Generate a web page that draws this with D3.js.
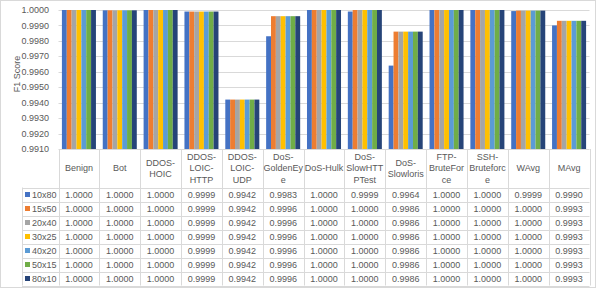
<!DOCTYPE html>
<html>
<head>
<meta charset="utf-8">
<script src="https://cdn.jsdelivr.net/npm/d3@7"></script>
<style>
    body { margin: 0; background: #fff; }
    text { font-family: "Liberation Sans", Arial, sans-serif; font-size: 9px; fill: #595959; }
</style>
</head>
<body>
<svg id="chart"></svg>
<script>
// categories and their wrapped header labels (as shown in the data table)
var categories = ['Benign', 'Bot', 'DDOS-HOIC', 'DDOS-LOIC-HTTP', 'DDOS-LOIC-UDP', 'DoS-GoldenEye',
    'DoS-Hulk', 'DoS-SlowHTTPTest', 'DoS-Slowloris', 'FTP-BruteForce', 'SSH-Bruteforce', 'WAvg', 'MAvg'];
var headerLines = [['Benign'], ['Bot'], ['DDOS-', 'HOIC'], ['DDOS-', 'LOIC-', 'HTTP'], ['DDOS-', 'LOIC-', 'UDP'],
    ['DoS-', 'GoldenEy', 'e'], ['DoS-Hulk'], ['DoS-', 'SlowHTT', 'PTest'], ['DoS-', 'Slowloris'],
    ['FTP-', 'BruteFor', 'ce'], ['SSH-', 'Bruteforc', 'e'], ['WAvg'], ['MAvg']];

var seriesNames = ['10x80', '15x50', '20x40', '30x25', '40x20', '50x15', '80x10'];

// F1 score per series, one value per category
var s10x80 = [1.0000, 0.99998, 1.0000, 0.9999, 0.9942, 0.9983, 1.0000, 0.9999, 0.9964, 1.0000, 1.0000, 0.99993, 0.9990];
var s15x50 = [1.0000, 0.99998, 1.0000, 0.9999, 0.9942, 0.9996, 1.0000, 1.0000, 0.9986, 1.0000, 1.0000, 0.99996, 0.9993];
var s20x40 = [1.0000, 0.99998, 1.0000, 0.9999, 0.9942, 0.9996, 1.0000, 1.0000, 0.9986, 1.0000, 1.0000, 0.99996, 0.9993];
var s30x25 = [1.0000, 0.99998, 1.0000, 0.9999, 0.9942, 0.9996, 1.0000, 1.0000, 0.9986, 1.0000, 1.0000, 0.99996, 0.9993];
var s40x20 = [1.0000, 0.99998, 1.0000, 0.9999, 0.9942, 0.9996, 1.0000, 1.0000, 0.9986, 1.0000, 1.0000, 0.99996, 0.9993];
var s50x15 = [1.0000, 0.99998, 1.0000, 0.9999, 0.9942, 0.9996, 1.0000, 1.0000, 0.9986, 1.0000, 1.0000, 0.99996, 0.9993];
var s80x10 = [1.0000, 0.99998, 1.0000, 0.9999, 0.9942, 0.9996, 1.0000, 1.0000, 0.9986, 1.0000, 1.0000, 0.99996, 0.9993];
var seriesValues = [s10x80, s15x50, s20x40, s30x25, s40x20, s50x15, s80x10];

var yTicks = [0.991, 0.992, 0.993, 0.994, 0.995, 0.996, 0.997, 0.998, 0.999, 1.000];

var colors = ['#4472C4', '#ED7D31', '#A5A5A5', '#FFC000', '#5B9BD5', '#70AD47', '#264478'];

var canvas = setUpSvgCanvas(598, 289);
drawChart(canvas);

function setUpSvgCanvas(width, height) {
    var svg = d3.select('#chart')
        .attr('width', width)
        .attr('height', height);

    // chart border
    svg.append('rect')
        .attr('x', 0.5).attr('y', 0.5)
        .attr('width', 595).attr('height', 287)
        .attr('fill', '#fff')
        .attr('stroke', '#d9d9d9');

    return {svg: svg, width: width, height: height};
}

function drawChart(canvas) {
    var svg = canvas.svg;

    // plot box, table sits underneath
    var left = 58.5, right = 589.5, top = 10, bottom = 149,
        tableLeft = 22, headerBottom = 187.5, rowHeight = 14;

    var x = d3.scaleBand()
        .domain(categories)
        .range([left, right])
        .paddingInner(0.167)
        .paddingOuter(0.0835);

    var xs = d3.scaleBand()
        .domain(seriesNames)
        .range([0, x.bandwidth()]);

    var y = d3.scaleLinear()
        .domain([yTicks[0], yTicks[yTicks.length - 1]])
        .range([bottom, top]);

    var color = d3.scaleOrdinal().domain(seriesNames).range(colors);

    // gridlines + tick labels
    svg.append('g').selectAll('line')
        .data(yTicks.slice(1))
        .enter().append('line')
        .attr('x1', left).attr('x2', right)
        .attr('y1', function(d) { return Math.round(y(d)) + 0.5; })
        .attr('y2', function(d) { return Math.round(y(d)) + 0.5; })
        .attr('stroke', '#d9d9d9');

    svg.append('g').selectAll('text')
        .data(yTicks)
        .enter().append('text')
        .attr('x', 49)
        .attr('y', function(d) { return y(d); })
        .attr('dy', '0.35em')
        .style('text-anchor', 'end')
        .text(d3.format('.4f'));

    svg.append('text')
        .attr('transform', 'translate(17,74) rotate(-90)')
        .style('text-anchor', 'middle')
        .attr('dy', '0.35em')
        .text('F1 Score');

    // bars
    var group = svg.append('g').selectAll('.series')
        .data(seriesNames)
        .enter().append('g')
        .attr('class', 'series')
        .attr('fill', function(d) { return color(d); });

    group.selectAll('rect')
        .data(function(s, i) {
            return seriesValues[i].map(function(v, j) { return {series: s, cat: categories[j], value: v}; });
        })
        .enter().append('rect')
        .attr('x', function(d) { return x(d.cat) + xs(d.series); })
        .attr('width', xs.bandwidth())
        .attr('y', function(d) { return y(d.value); })
        .attr('height', function(d) { return y(yTicks[0]) - y(d.value); });

    // data table
    var step = x.step(),
        nRows = seriesNames.length,
        tableBottom = headerBottom + nRows * rowHeight,
        bounds = d3.range(categories.length + 1).map(function(i) { return left + i * step; });

    var grid = svg.append('g').attr('stroke', '#d9d9d9');

    grid.selectAll('.vline')
        .data(bounds)
        .enter().append('line')
        .attr('x1', function(d) { return Math.round(d) + 0.5; })
        .attr('x2', function(d) { return Math.round(d) + 0.5; })
        .attr('y1', bottom).attr('y2', tableBottom);

    grid.append('line')
        .attr('x1', tableLeft + 0.5).attr('x2', tableLeft + 0.5)
        .attr('y1', headerBottom).attr('y2', tableBottom);

    grid.append('line')
        .attr('x1', left).attr('x2', right)
        .attr('y1', bottom + 0.5).attr('y2', bottom + 0.5);

    grid.selectAll('.hline')
        .data(d3.range(nRows + 1))
        .enter().append('line')
        .attr('x1', tableLeft).attr('x2', right)
        .attr('y1', function(i) { return Math.round(headerBottom + i * rowHeight) + 0.5; })
        .attr('y2', function(i) { return Math.round(headerBottom + i * rowHeight) + 0.5; });

    // header labels
    var lineHeight = 11.7,
        headerMid = (bottom + headerBottom) / 2;

    var header = svg.append('g').selectAll('text')
        .data(categories)
        .enter().append('text')
        .attr('x', function(d) { return x(d) + x.bandwidth() / 2; })
        .style('text-anchor', 'middle');

    header.each(function(d, i) {
        var lines = headerLines[i],
            start = headerMid - (lines.length - 1) * lineHeight / 2;
        d3.select(this).selectAll('tspan')
            .data(lines)
            .enter().append('tspan')
            .attr('x', x(d) + x.bandwidth() / 2)
            .attr('y', function(l, k) { return start + k * lineHeight; })
            .attr('dy', '0.35em')
            .text(function(l) { return l; });
    });

    // rows: legend key + values
    var row = svg.append('g').selectAll('.row')
        .data(seriesNames)
        .enter().append('g')
        .attr('class', 'row')
        .attr('transform', function(d, i) { return 'translate(0,' + (headerBottom + i * rowHeight + rowHeight / 2) + ')'; });

    row.append('rect')
        .attr('x', 25).attr('y', -2.5)
        .attr('width', 5).attr('height', 5)
        .attr('fill', function(d) { return color(d); });

    row.append('text')
        .attr('x', 32)
        .attr('dy', '0.35em')
        .text(function(d) { return d; });

    row.selectAll('.val')
        .data(function(s, i) { return seriesValues[i]; })
        .enter().append('text')
        .attr('class', 'val')
        .attr('x', function(v, j) { return x(categories[j]) + x.bandwidth() / 2; })
        .attr('dy', '0.35em')
        .style('text-anchor', 'middle')
        .text(function(v) { return d3.format('.4f')(v); });
}
</script>
</body>
</html>
